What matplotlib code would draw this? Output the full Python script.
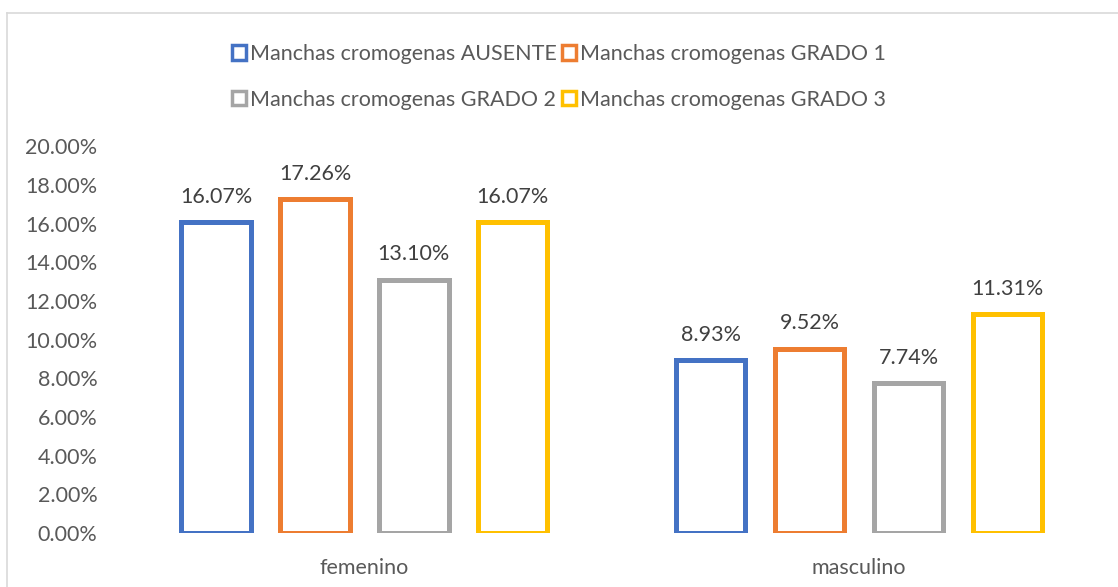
import numpy as np
import matplotlib.pyplot as plt
from matplotlib.patches import Patch
from matplotlib.lines import Line2D
from matplotlib.ticker import FuncFormatter

plt.rcParams['font.family'] = ['Lato', 'DejaVu Sans']

# datos
categorias = ['femenino', 'masculino']
series = ['Manchas cromogenas AUSENTE', 'Manchas cromogenas GRADO 1',
          'Manchas cromogenas GRADO 2', 'Manchas cromogenas GRADO 3']
ausente = [16.07, 8.93]
grado1 = [17.26, 9.52]
grado2 = [13.10, 7.74]
grado3 = [16.07, 11.31]
colores = ['#4472C4', '#ED7D31', '#A5A5A5', '#FFC000']

valores = [ausente, grado1, grado2, grado3]

fig = plt.figure(figsize=(11.18, 5.87), dpi=100)
ax = fig.add_axes([0.1047, 0.092, 0.885, 0.659])

x = np.arange(len(categorias))
offsets = [-0.3, -0.1, 0.1, 0.3]
ancho = 0.14

for vals, off, col in zip(valores, offsets, colores):
    ax.bar(x + off, vals, width=ancho, facecolor='white', edgecolor=col, linewidth=3.6)
    for xi, v in zip(x, vals):
        ax.text(xi + off, v + 0.8, f'{v:.2f}%', ha='center', va='bottom',
                fontsize=15.5, color='#404040')

ax.set_xlim(-0.5, 1.5)
ax.set_ylim(0, 20)
ax.set_yticks(np.arange(0, 21, 2))
ax.yaxis.set_major_formatter(FuncFormatter(lambda v, p: f'{v:.2f}%'))
ax.set_xticks(x)
ax.set_xticklabels(categorias)
ax.tick_params(axis='both', length=0, labelsize=15.5, colors='#595959')
ax.tick_params(axis='x', pad=18)
ax.tick_params(axis='y', pad=14)
for s in ax.spines.values():
    s.set_visible(False)

# orden por filas con ncol=2
orden = [0, 2, 1, 3]
handles = [Patch(facecolor='white', edgecolor=colores[i], linewidth=2.5) for i in orden]
etiquetas = [series[i] for i in orden]
fig.legend(handles, etiquetas, loc='upper center', bbox_to_anchor=(0.5, 0.958), ncol=2,
           frameon=False, fontsize=15.5, labelcolor='#595959', handlelength=0.65,
           handleheight=0.65, handletextpad=0.2, columnspacing=0.2, labelspacing=1.2)

# borde del grafico
fig.add_artist(Line2D([7 / 1118, 7 / 1118], [0, 1 - 13 / 587], color='#D9D9D9', lw=1.2))
fig.add_artist(Line2D([7 / 1118, 1], [1 - 13 / 587, 1 - 13 / 587], color='#D9D9D9', lw=1.2))

fig.savefig('out.png', dpi=100)
